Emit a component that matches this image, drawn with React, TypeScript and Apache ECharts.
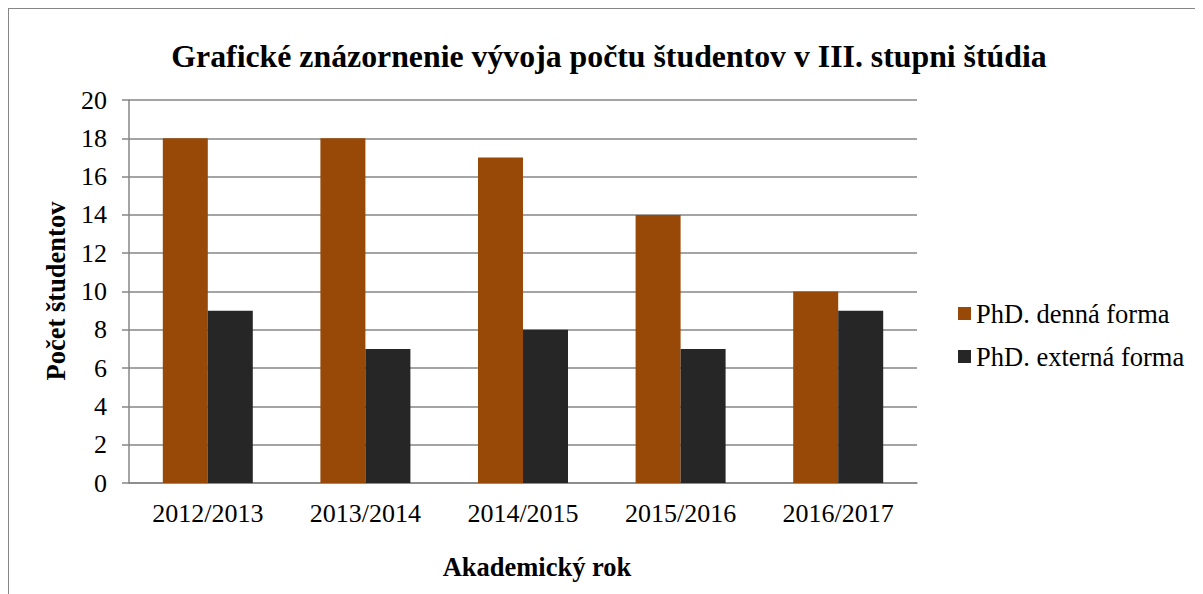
import React, { useEffect, useRef } from "react";
import * as echarts from "echarts";

const categories = ["2012/2013", "2013/2014", "2014/2015", "2015/2016", "2016/2017"];
const dennaForma = [18, 18, 17, 14, 10];
const externaForma = [9, 7, 8, 7, 9];
const seriesNames = ["PhD. denná forma", "PhD. externá forma"];

const FONT = "'Liberation Serif', 'Times New Roman', serif";

export default function App() {
  const ref = useRef<HTMLDivElement>(null);
  useEffect(() => {
    if (!ref.current) return;
    const chart = echarts.init(ref.current, undefined, { renderer: "svg" });
    chart.setOption({
      animation: false,
      backgroundColor: "#ffffff",
      title: {
        text: "Grafické znázornenie vývoja počtu študentov v III. stupni štúdia",
        left: 595,
        top: 26,
        textAlign: "center",
        textStyle: { fontFamily: FONT, fontSize: 31.8, fontWeight: "bold", color: "#000" },
      },
      legend: {
        orient: "vertical",
        left: 944,
        top: 286,
        itemWidth: 13,
        itemHeight: 13,
        itemGap: 16,
        icon: "rect",
        textStyle: { fontFamily: FONT, fontSize: 26.5, color: "#000" },
        data: seriesNames,
      },
      graphic: [
        {
          type: "text",
          x: 47,
          y: 282,
          rotation: Math.PI / 2,
          style: {
            text: "Počet študentov",
            fontFamily: FONT,
            fontSize: 26.5,
            fontWeight: "bold",
            fill: "#000",
            textAlign: "center",
            textVerticalAlign: "middle",
          },
        },
        {
          type: "text",
          x: 528,
          y: 558,
          style: {
            text: "Akademický rok",
            fontFamily: FONT,
            fontSize: 26.5,
            fontWeight: "bold",
            fill: "#000",
            textAlign: "center",
            textVerticalAlign: "middle",
          },
        },
      ],
      grid: { left: 120, top: 91, width: 788, height: 383, containLabel: false },
      xAxis: {
        type: "category",
        data: categories,
        axisLine: { lineStyle: { color: "#868686", width: 1.5 } },
        axisTick: { show: false },
        axisLabel: { fontFamily: FONT, fontSize: 26, color: "#000", margin: 17 },
      },
      yAxis: {
        type: "value",
        min: 0,
        max: 20,
        interval: 2,
        axisLine: { show: true, lineStyle: { color: "#868686", width: 1.5 } },
        axisTick: { show: true, length: 7, lineStyle: { color: "#868686", width: 1.5 } },
        axisLabel: { fontFamily: FONT, fontSize: 26, color: "#000", margin: 22 },
        splitLine: { lineStyle: { color: "#868686", width: 1.5 } },
      },
      series: [
        {
          name: seriesNames[0],
          type: "bar",
          data: dennaForma,
          barWidth: 45,
          barGap: "0%",
          itemStyle: { color: "#984807" },
        },
        {
          name: seriesNames[1],
          type: "bar",
          data: externaForma,
          barWidth: 45,
          barGap: "0%",
          itemStyle: { color: "#262626" },
        },
      ],
    });
    return () => chart.dispose();
  }, []);
  return (
    <div style={{ width: 1200, height: 600, border: "1px solid #868686", boxSizing: "border-box" }}>
      <div ref={ref} style={{ width: 1198, height: 598 }} />
    </div>
  );
}
